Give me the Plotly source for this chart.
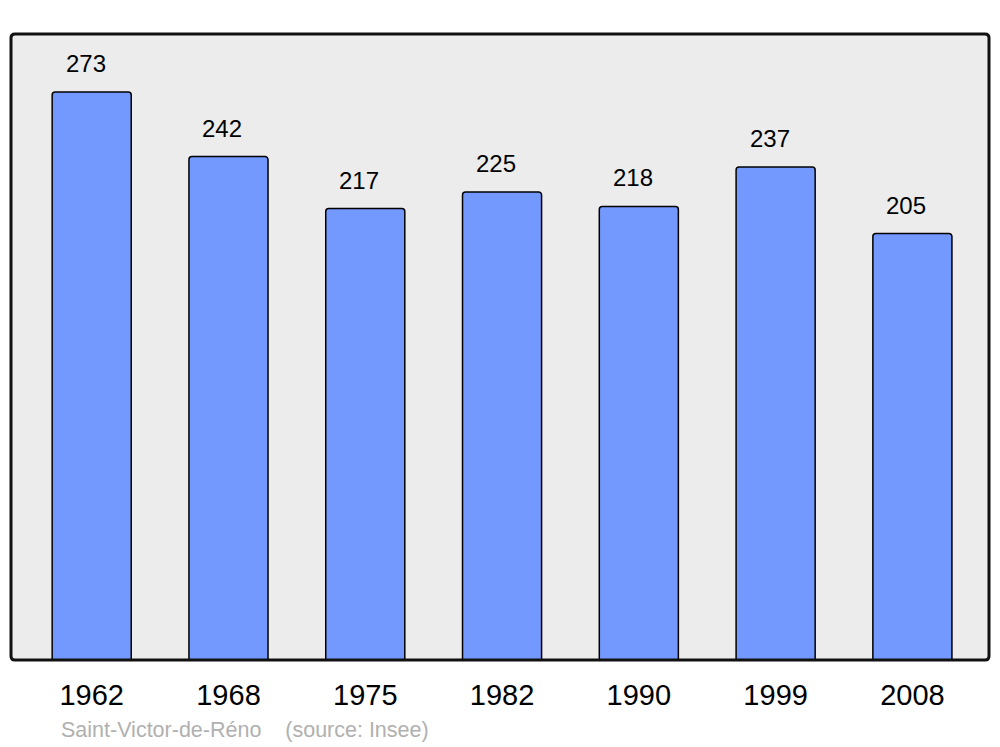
import plotly.graph_objects as go

years = ["1962", "1968", "1975", "1982", "1990", "1999", "2008"]
population = [273, 242, 217, 225, 218, 237, 205]
source_text = "Saint-Victor-de-Réno    (source: Insee)"

FONT = "Liberation Sans, Arial, sans-serif"

fig = go.Figure()
fig.add_trace(go.Bar(
    x=years, y=population,
    width=0.578,
    marker=dict(color="#7399ff", line=dict(color="#000000", width=1.5), cornerradius=3),
    hoverinfo="skip",
))

for i, v in enumerate(population):
    fig.add_annotation(x=i, y=v, text=str(v), showarrow=False,
                       xref="x", yref="y",
                       yanchor="middle", yshift=28.5, xshift=-6,
                       font=dict(family=FONT, size=24, color="#000000"))

fig.add_annotation(xref="paper", yref="paper", x=0.049, y=-0.1118,
                   xanchor="left", yanchor="middle",
                   text=source_text.replace("    ", "&nbsp;&nbsp;&nbsp;&nbsp;"),
                   showarrow=False, font=dict(family=FONT, size=21.5, color="#b0b0b0"))

# rounded frame
rx, ry = 4 / 978, 4 / 626
path = (f"M {rx},0 L {1-rx},0 Q 1,0 1,{ry} L 1,{1-ry} Q 1,1 {1-rx},1 "
        f"L {rx},1 Q 0,1 0,{1-ry} L 0,{ry} Q 0,0 {rx},0 Z")
fig.add_shape(type="path", path=path, xref="paper", yref="paper",
              line=dict(color="#111111", width=3), layer="above")

# page body has an 8px margin, so the figure is sized to fit inside the window
fig.update_layout(
    width=992, height=739,
    margin=dict(l=3, r=11, t=26, b=87),
    paper_bgcolor="#ffffff", plot_bgcolor="#ececec",
    showlegend=False,
    xaxis=dict(type="category", range=[-0.59, 6.56], showgrid=False, zeroline=False,
               ticks="", ticklabelstandoff=15,
               tickfont=dict(family=FONT, size=29, color="#000000")),
    yaxis=dict(range=[0, 300.9], showgrid=False, zeroline=False, showticklabels=False, ticks=""),
)

fig.write_html("out.html")
